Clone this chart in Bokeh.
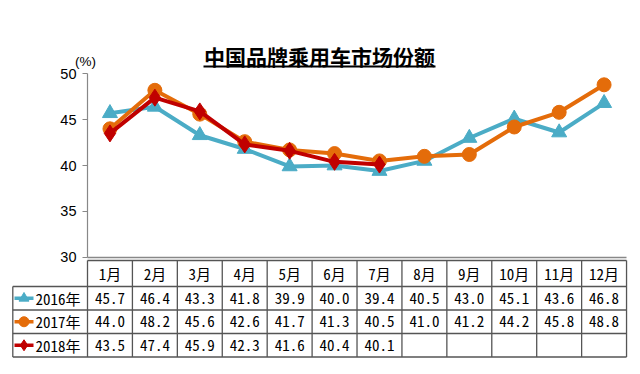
from bokeh.plotting import figure
from bokeh.models import Range1d, FixedTicker, LinearAxis
from bokeh.core.properties import value
from bokeh.embed import file_html
from bokeh.resources import INLINE

# ---------------- data ----------------
months = ["1月", "2月", "3月", "4月", "5月", "6月", "7月", "8月", "9月", "10月", "11月", "12月"]
years = ["2016年", "2017年", "2018年"]
s2016 = [45.7, 46.4, 43.3, 41.8, 39.9, 40.0, 39.4, 40.5, 43.0, 45.1, 43.6, 46.8]
s2017 = [44.0, 48.2, 45.6, 42.6, 41.7, 41.3, 40.5, 41.0, 41.2, 44.2, 45.8, 48.8]
s2018 = [43.5, 47.4, 45.9, 42.3, 41.6, 40.4, 40.1]
y_ticks = [30, 35, 40, 45, 50]
title_text = "中国品牌乘用车市场份额"
unit_text = "(%)"

# ---------------- styles / layout ----------------
series = [s2016, s2017, s2018]
colors = ["#4BACC6", "#E46C0A", "#C00000"]
markers = ["triangle", "circle", "diamond"]
marker_sizes = [15, 14, 17]
swatch_sizes = [10, 10, 11]
x_idx = list(range(1, len(months) + 1))

W, H = 640, 374                 # canvas (page has no margin with Bokeh's template)
OFF = 0
COL_PX = 44.92                  # px per month column
CHART_LEFT, CHART_TOP, CHART_BOTTOM = 87.0, 73.3, 256.7   # page px
Y_LO, Y_HI = 30, 50
PY = (CHART_BOTTOM - CHART_TOP) / (Y_HI - Y_LO)


def xpx(px):
    return 0.5 + (px - CHART_LEFT) / COL_PX


def ypx(py):
    return Y_HI - (py - CHART_TOP) / PY


TABLE_TOP = 260.0
row_edges = [0, 26, 49.5, 73, 96.5]     # table rows, px below TABLE_TOP
label_left = xpx(12.3)

TABLE_FONT = value("Noto Sans Mono CJK SC, Noto Sans CJK SC")

p = figure(width=W, height=H, x_range=Range1d(xpx(OFF), xpx(OFF + W)),
           y_range=Range1d(ypx(OFF + H), ypx(OFF)),
           output_backend="svg", toolbar_location=None, x_axis_location=None, y_axis_location=None,
           min_border=0, min_border_left=0, min_border_right=0, min_border_top=0, min_border_bottom=0)
p.extra_y_ranges = {"tbl": Range1d(OFF + H - TABLE_TOP, OFF - TABLE_TOP)}
p.outline_line_color = None
p.background_fill_color = "#FFFFFF"
p.border_fill_color = "#FFFFFF"
p.xgrid.visible = False
p.ygrid.visible = False

# y axis at the chart's left edge
yax = LinearAxis(fixed_location=0.5, bounds=(Y_LO, Y_HI), ticker=FixedTicker(ticks=y_ticks))
yax.minor_tick_line_color = None
yax.major_tick_in = 0
yax.major_tick_out = 5
yax.major_tick_line_color = "#888888"
yax.axis_line_color = "#888888"
yax.axis_line_width = 1.2
yax.major_label_text_font = "Liberation Sans"
yax.major_label_text_font_size = "14.5px"
yax.major_label_text_color = "#000000"
yax.major_label_standoff = 6
p.add_layout(yax, "left")

# x axis line along the chart bottom
xax = LinearAxis(fixed_location=Y_LO, bounds=(0.5, 12.5), ticker=FixedTicker(ticks=[]))
xax.minor_tick_line_color = None
xax.major_tick_line_color = None
xax.axis_line_color = "#888888"
xax.axis_line_width = 1.5
p.add_layout(xax, "below")

# series
for s, c, m, ms in zip(series, colors, markers, marker_sizes):
    xs = x_idx[:len(s)]
    p.line(xs, s, line_color=c, line_width=4)
    p.scatter(xs, s, marker=m, size=ms, fill_color=c, line_color=c)

# title (underlined) and unit
p.text(x=[xpx(319)], y=[ypx(55.5)], text=[title_text], text_align="center", text_baseline="middle",
       text_font=value("Noto Sans CJK SC"), text_font_style="bold", text_font_size="21px",
       text_color="#000000")
p.segment(x0=[xpx(203)], y0=[ypx(66)], x1=[xpx(435)], y1=[ypx(66)], line_color="#000000", line_width=2)
p.text(x=[xpx(85)], y=[ypx(61)], text=[unit_text], text_align="center", text_baseline="middle",
       text_font=value("Liberation Sans"), text_font_size="13.5px", text_color="#000000")

# table grid
col_edges = [0.5 + k for k in range(len(months) + 1)]
x0, y0, x1, y1 = [], [], [], []
x0.append(col_edges[0]); x1.append(col_edges[-1]); y0.append(row_edges[0]); y1.append(row_edges[0])
for ry in row_edges[1:]:
    x0.append(label_left); x1.append(col_edges[-1]); y0.append(ry); y1.append(ry)
for cx in col_edges:
    x0.append(cx); x1.append(cx); y0.append(row_edges[0]); y1.append(row_edges[-1])
x0.append(label_left); x1.append(label_left); y0.append(row_edges[1]); y1.append(row_edges[-1])
p.segment(x0, y0, x1, y1, line_color="#555555", line_width=1.3, y_range_name="tbl")

row_centers = [(row_edges[k] + row_edges[k + 1]) / 2 for k in range(len(row_edges) - 1)]

p.text(x=x_idx, y=[row_centers[0]] * len(months), text=months, text_align="center",
       text_baseline="middle", text_font=TABLE_FONT, text_font_size="15px", text_color="#000000",
       y_range_name="tbl")

for k, (s, c, m, yr, ss) in enumerate(zip(series, colors, markers, years, swatch_sizes)):
    yc = row_centers[k + 1]
    p.text(x=x_idx[:len(s)], y=[yc] * len(s), text=[f"{v:.1f}" for v in s], text_align="center",
           text_baseline="middle", text_font=TABLE_FONT, text_font_size="15px", text_color="#000000",
           y_range_name="tbl")
    p.line([xpx(14), xpx(33)], [yc, yc], line_color=c, line_width=3.5, y_range_name="tbl")
    p.scatter([xpx(23.5)], [yc], marker=m, size=ss, fill_color=c, line_color=c, y_range_name="tbl")
    p.text(x=[xpx(35)], y=[yc], text=[yr], text_align="left", text_baseline="middle",
           text_font=TABLE_FONT, text_font_size="15px", text_color="#000000", y_range_name="tbl")

open("out.html", "w").write(file_html(p, INLINE))
